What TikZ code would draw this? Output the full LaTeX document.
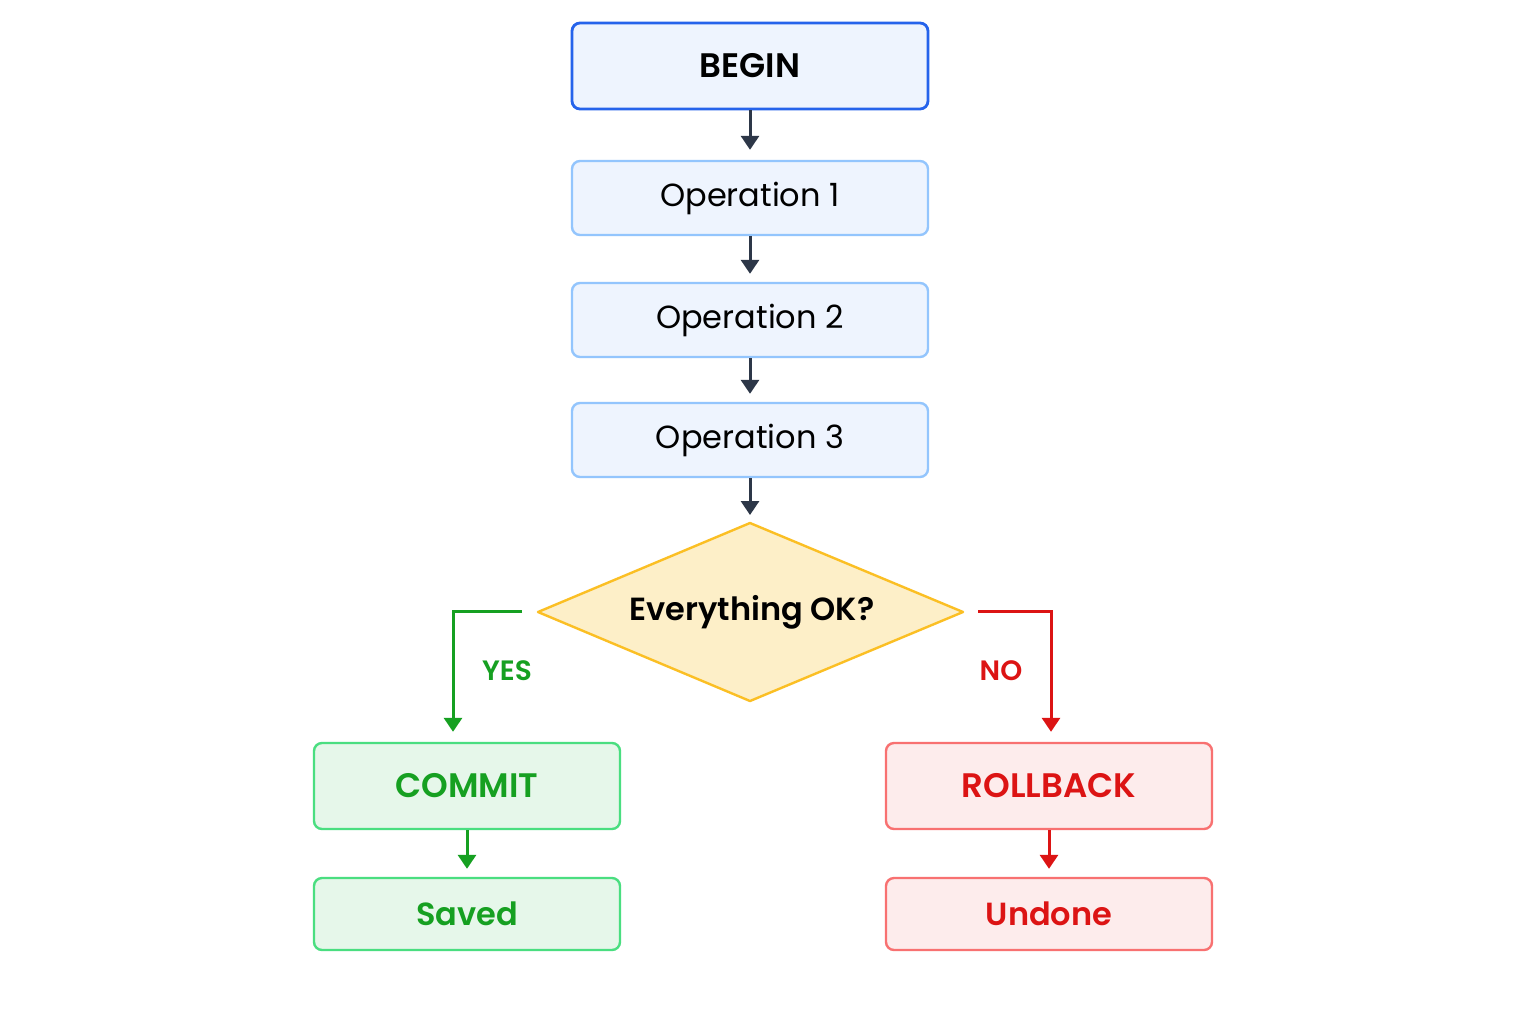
\documentclass[tikz,border=0pt]{standalone}
\usepackage{fontspec}
\setmainfont{Poppins}[BoldFont={Poppins SemiBold}]
\usetikzlibrary{shapes.geometric,arrows.meta}
\definecolor{bb}{HTML}{2563EB}\definecolor{bl}{HTML}{93C5FD}\definecolor{bf}{HTML}{EEF4FE}
\definecolor{yb}{HTML}{FBBF24}\definecolor{yf}{HTML}{FDEFC8}
\definecolor{gb}{HTML}{4ADE80}\definecolor{gf}{HTML}{E6F7EA}\definecolor{gt}{HTML}{16A021}
\definecolor{rb}{HTML}{F87171}\definecolor{rf}{HTML}{FDECEC}\definecolor{rt}{HTML}{DC1414}
\definecolor{ar}{HTML}{2D3748}
\begin{document}
\begin{tikzpicture}[x=0.5pt,y=-0.5pt,
 box/.style={draw,rounded corners=4pt,line width=1.2pt,minimum width=178pt,font=\fontsize{16}{18}\selectfont},
 op/.style={box,draw=bl,fill=bf,minimum height=37pt},
 arr/.style={-{Triangle[length=7pt,width=9pt]},line width=1.5pt,draw=ar}]
\fill[white] (0,0) rectangle (1535,1024);
\node[box,draw=bb,fill=bf,minimum height=43pt,font=\fontsize{17}{18}\selectfont\bfseries,line width=1.4pt] (b) at (750,66) {BEGIN};
\node[op] (o1) at (750,198) {Operation 1};
\node[op] (o2) at (750,320) {Operation 2};
\node[op] (o3) at (750,440) {Operation 3};
\coordinate (dt) at (750,523); \coordinate (dr) at (963,612);
\coordinate (db) at (750,701); \coordinate (dl) at (538,612);
\draw[draw=yb,fill=yf,line width=1.2pt,line join=round] (dt) -- (dr) -- (db) -- (dl) -- cycle;
\node[font=\fontsize{16}{18}\selectfont\bfseries] (d) at (752,612) {Everything OK?};
\node[box,draw=gb,fill=gf,text=gt,minimum width=153pt,minimum height=43pt,font=\fontsize{17}{18}\selectfont\bfseries] (c) at (467,786) {COMMIT};
\node[box,draw=gb,fill=gf,text=gt,minimum width=153pt,minimum height=36pt,font=\fontsize{16}{18}\selectfont\bfseries] (s) at (467,914) {Saved};
\node[box,draw=rb,fill=rf,text=rt,minimum width=163pt,minimum height=43pt,font=\fontsize{17}{18}\selectfont\bfseries] (r) at (1049,786) {ROLLBACK};
\node[box,draw=rb,fill=rf,text=rt,minimum width=163pt,minimum height=36pt,font=\fontsize{16}{18}\selectfont\bfseries] (u) at (1049,914) {Undone};
\draw[arr,shorten >=5pt] (b) -- (o1);
\draw[arr,shorten >=4pt] (o1) -- (o2);
\draw[arr,shorten >=4pt] (o2) -- (o3);
\draw[arr,shorten >=4pt] (o3) -- (dt);
\coordinate (yl) at (522,611); \coordinate (nl) at (978,611);
\draw[arr,draw=gt] (yl) -| ([xshift=-7pt,yshift=5pt]c.north);
\draw[arr,draw=rt] (nl) -| ([xshift=1pt,yshift=5pt]r.north);
\draw[arr,draw=gt,shorten >=4pt] (c) -- (s);
\draw[arr,draw=rt,shorten >=4pt] (r) -- (u);
\node[text=gt,font=\fontsize{14}{16}\selectfont\bfseries] (yt) at (507,671) {YES};
\node[text=rt,font=\fontsize{14}{16}\selectfont\bfseries] (nt) at (1001,671) {NO};
\end{tikzpicture}
\end{document}
